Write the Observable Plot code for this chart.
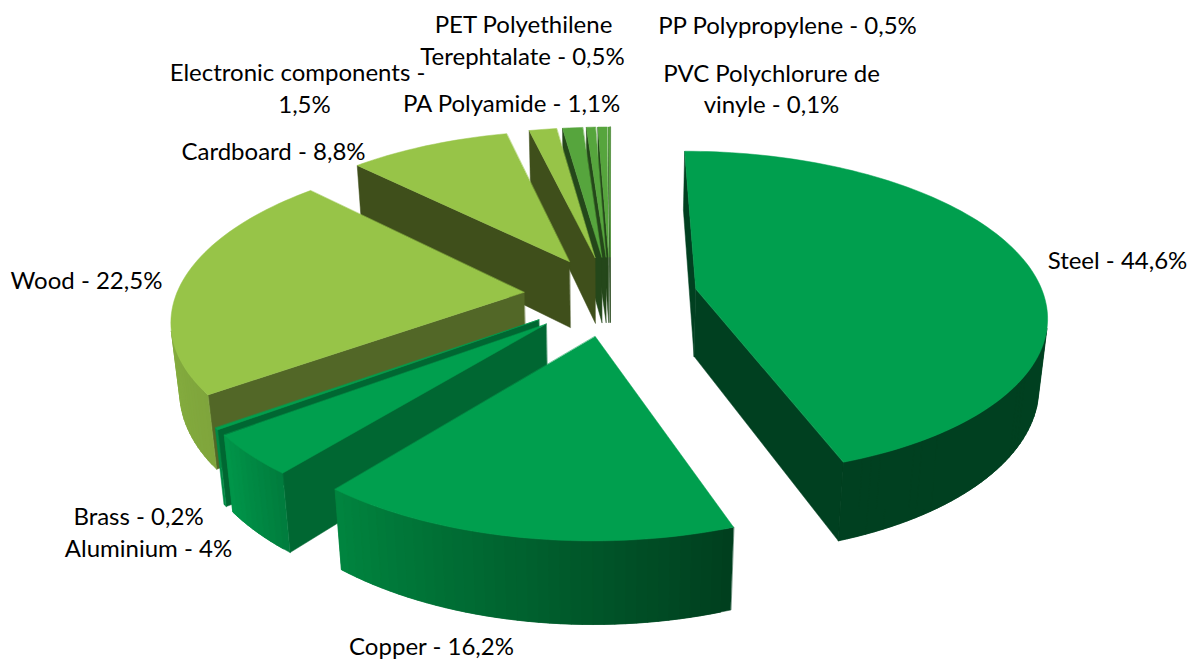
<!DOCTYPE html>
<html><head><meta charset="utf-8">
<script src="https://cdn.jsdelivr.net/npm/d3@7"></script>
<script src="https://cdn.jsdelivr.net/npm/@observablehq/plot@0.6"></script>
<style>html,body{margin:0;padding:0;background:#fff}svg{display:block}</style>
</head><body><div id="chart"></div>
<script>
// data, in reading order (clockwise from twelve o'clock)
const materials = ["Steel","Copper","Aluminium","Brass","Wood","Cardboard","Electronic components","PA Polyamide","PET Polyethilene Terephtalate","PP Polypropylene","PVC Polychlorure de vinyle"];
const shares = [44.6,16.2,4,0.2,22.5,8.8,1.5,1.1,0.5,0.5,0.1];
// styles per slice
const topColors = ["#009f4e","#009f4e","#009f4e","#009f4e","#97c448","#97c448","#97c448","#56a53d","#56a53d","#56a53d","#56a53d"];
const cutColors = ["#004020","#004020","#006732","#006732","#526727","#3f4f1b","#3f4f1b","#24471a","#24471a","#24471a","#24471a"];
const arcStart  = ["#004020","#003e1e","#007c3d","#008a45","#7fa53c","#97c448","#97c448","#56a53d","#56a53d","#56a53d","#56a53d"];
const arcEnd    = ["#004020","#00853f","#00964a","#008a45","#93bf46","#97c448","#97c448","#56a53d","#56a53d","#56a53d","#56a53d"];
// labels, one row per line
const labelText = ["Steel - 44,6%","Copper - 16,2%","Aluminium - 4%","Brass - 0,2%","Wood - 22,5%","Cardboard - 8,8%","Electronic components -","1,5%","PA Polyamide - 1,1%","PET Polyethilene","Terephtalate - 0,5%","PP Polypropylene - 0,5%","PVC Polychlorure de","vinyle - 0,1%"];
const labelX = [1117,431,148,138,86,273,297,304,511,523,522,787,771,771];
const labelY = [261,647,549,517,281,152,73,105,104,25,57,26,74,105];

// camera of the 3D pie
const cam = {cx:610, cy:295, s:348, k:0.46, p:0.15, h:68, q:0.02, explode:0.25};
function project(u, v, bottom) {
  const w = 1 + cam.p * v;
  return {
    x: cam.cx + cam.s * u / (w + (bottom ? cam.q : 0)),
    y: cam.cy - cam.s * cam.k * v / w + (bottom ? cam.h / w : 0)
  };
}
const rad = d => d * Math.PI / 180;
const total = d3.sum(shares);
const faces = [];
let nid = 0;
function addFace(pts, fill) {
  const id = nid++;
  pts.forEach(p => faces.push({id, x:p.x, y:p.y, fill}));
}
function area(pts) {
  let a = 0;
  pts.forEach((p,i) => { const q = pts[(i+1)%pts.length]; a += p.x*q.y - q.x*p.y; });
  return a/2;
}
let cum = 0;
const slices = shares.map((v,i) => {
  const a0 = cum/total*360; cum += v; const a1 = cum/total*360;
  return {i, a0, a1};
});
// painter's order: far slices first
const order = [0,10,9,8,7,6,5,4,3,2,1];
order.forEach(i => {
  const {a0,a1} = slices[i];
  const mid = rad((a0+a1)/2);
  const ox = cam.explode*Math.sin(mid), oy = cam.explode*Math.cos(mid);
  const n = Math.max(1, Math.ceil((a1-a0)/1.5));
  const rim = d3.range(n+1).map(j => {
    const t = a0 + (a1-a0)*j/n;
    return {t, u: ox+Math.sin(rad(t)), v: oy+Math.cos(rad(t))};
  });
  const apex = {u:ox, v:oy};
  const quad = (P,Q) => [project(P.u,P.v,false), project(Q.u,Q.v,false), project(Q.u,Q.v,true), project(P.u,P.v,true)];
  const side = (P,Q,fill) => { const q = quad(P,Q); if (area(q) < 0) addFace(q, fill); };
  // cut faces
  side(apex, rim[0], cutColors[i]);
  side(rim[n], apex, cutColors[i]);
  // outer wall, shaded along the arc; bands overlap so later ones hide the seams
  const shade = d3.interpolateRgb(arcStart[i], arcEnd[i]);
  const vis = d3.range(n).filter(j => area(quad(rim[j], rim[j+1])) < 0);
  vis.forEach((j,m) => {
    const next = vis[m+1] === j+1 ? j+2 : j+1;
    addFace(quad(rim[j], rim[Math.min(n,next)]), d3.rgb(shade((j+.5)/n)).formatHex());
  });
  // top
  addFace([apex,...rim].map(p => project(p.u,p.v,false)), topColors[i]);
});
const labels = labelText.map((text,i) => ({text, x:labelX[i], y:labelY[i]}));

const chart = Plot.plot({
  width:1190, height:659, margin:0,
  x:{domain:[0,1190], range:[0,1190], axis:null},
  y:{domain:[0,659], range:[0,659], axis:null},
  style:{background:"#fff"},
  marks:[
    Plot.line(faces,{x:"x",y:"y",z:"id",fill:"fill",stroke:"fill",strokeWidth:0.5,curve:"linear-closed"}),
    Plot.text(labels,{x:"x",y:"y",text:"text",fontSize:24,fontFamily:"Lato",fill:"#000"})
  ]
});
document.getElementById("chart").append(chart);
</script></body></html>
